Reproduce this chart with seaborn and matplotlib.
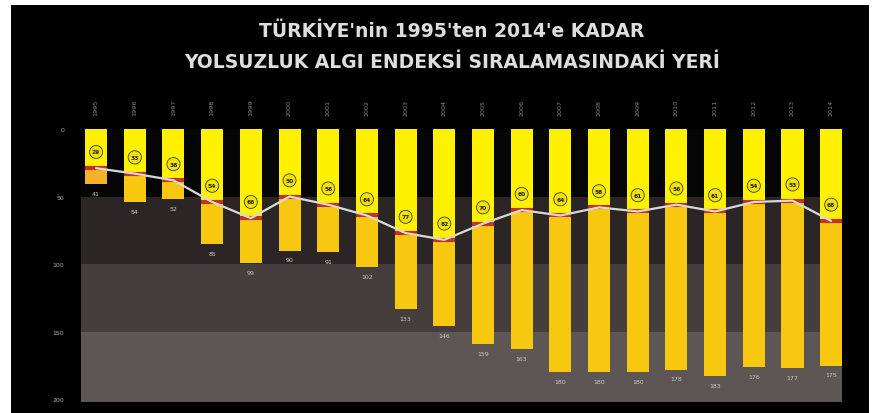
import numpy as np
import pandas as pd
import matplotlib.pyplot as plt
import seaborn as sns
from matplotlib.patches import Rectangle

# Turkey - Corruption Perceptions Index rank and number of countries ranked
years = [1995, 1996, 1997, 1998, 1999, 2000, 2001, 2002, 2003, 2004,
         2005, 2006, 2007, 2008, 2009, 2010, 2011, 2012, 2013, 2014]
ranks = [29, 33, 38, 54, 66, 50, 56, 64, 77, 82,
         70, 60, 64, 58, 61, 56, 61, 54, 53, 68]
totals = [41, 54, 52, 85, 99, 90, 91, 102, 133, 146,
          159, 163, 180, 180, 180, 178, 183, 176, 177, 175]
y_ticks = [0, 50, 100, 150, 200]
title_lines = ["TÜRKİYE'nin 1995'ten 2014'e KADAR",
               "YOLSUZLUK ALGI ENDEKSİ SIRALAMASINDAKİ YERİ"]

bands = [(0, 50, '#050505'), (50, 100, '#2b2625'), (100, 150, '#463e3c'), (150, 202, '#5d5654')]

df = pd.DataFrame({'year': [str(y) for y in years], 'rank': ranks, 'total': totals})
df['pos'] = np.arange(len(df))

sns.set_style('dark')
plt.rcParams['font.family'] = ['DejaVu Sans']

fig = plt.figure(figsize=(8.76, 4.14), dpi=100)
fig.patch.set_facecolor('white')
fig.patches.append(Rectangle((11 / 876, 0), (869 - 11) / 876, 1 - 6 / 414,
                             transform=fig.transFigure, facecolor='black',
                             edgecolor='none', zorder=-10))

ax = fig.add_axes([81 / 876, 1 - 403 / 414, (842 - 81) / 876, (403 - 130) / 414])
ax.set_facecolor('black')

for lo, hi, c in bands:
    ax.axhspan(lo, hi, color=c, lw=0, zorder=0)

# lower (golden) part of the bars, first one is a bit more orange
low_cols = {y: '#f8c70f' for y in df['year']}
low_cols['1995'] = '#f3b428'

bar_w = 0.57
sns.barplot(data=df, x='year', y='total', hue='year', palette=low_cols, width=bar_w,
            saturation=1, ax=ax, zorder=2, edgecolor='none', legend=False)
sns.barplot(data=df, x='year', y='rank', color='#fff100', width=bar_w,
            saturation=1, ax=ax, zorder=3, edgecolor='none')

# red rank markers
ax.hlines(df['rank'], df['pos'] - bar_w / 2, df['pos'] + bar_w / 2,
          color='#c1332a', lw=3, zorder=4)
sns.lineplot(data=df, x='pos', y='rank', color='#d9d9d9', lw=1.6, ax=ax, zorder=5)

for i, r in enumerate(ranks):
    ax.text(i, r - 12, str(r), ha='center', va='center', fontsize=4.3,
            color='#222222', fontweight='bold', zorder=6,
            bbox=dict(boxstyle='circle,pad=0.4', fc='#f2e200', ec='#3a3a3a', lw=0.6))

for i, t in enumerate(totals):
    ax.text(i, t + 5, str(t), ha='center', va='top', fontsize=4.5,
            color='#c8c8c8', zorder=6)

for i, y in enumerate(years):
    ax.text(i, 1.08, str(y), ha='center', va='center', rotation=90,
            fontsize=4.6, color='#8a8a8a', transform=ax.get_xaxis_transform())

ax.set_xlim(-0.39, 19.28)
ax.set_ylim(202, 0)
ax.set_yticks(y_ticks)
ax.set_yticklabels([str(v) for v in y_ticks], fontsize=4.5, color='#b0b0b0')
ax.tick_params(axis='y', length=0, pad=12)
ax.set_xticks([])
ax.set_xlabel('')
ax.set_ylabel('')
ax.grid(False)
for s in ax.spines.values():
    s.set_visible(False)

fig.text(0.516, 0.925, title_lines[0], ha='center', va='center', fontsize=13.5,
         fontweight='bold', color='#dedede', family=['DejaVu Sans'])
fig.text(0.516, 0.848, title_lines[1], ha='center', va='center', fontsize=13.5,
         fontweight='bold', color='#dedede', family=['DejaVu Sans'])

fig.savefig('out.png', dpi=100, facecolor=fig.get_facecolor())
